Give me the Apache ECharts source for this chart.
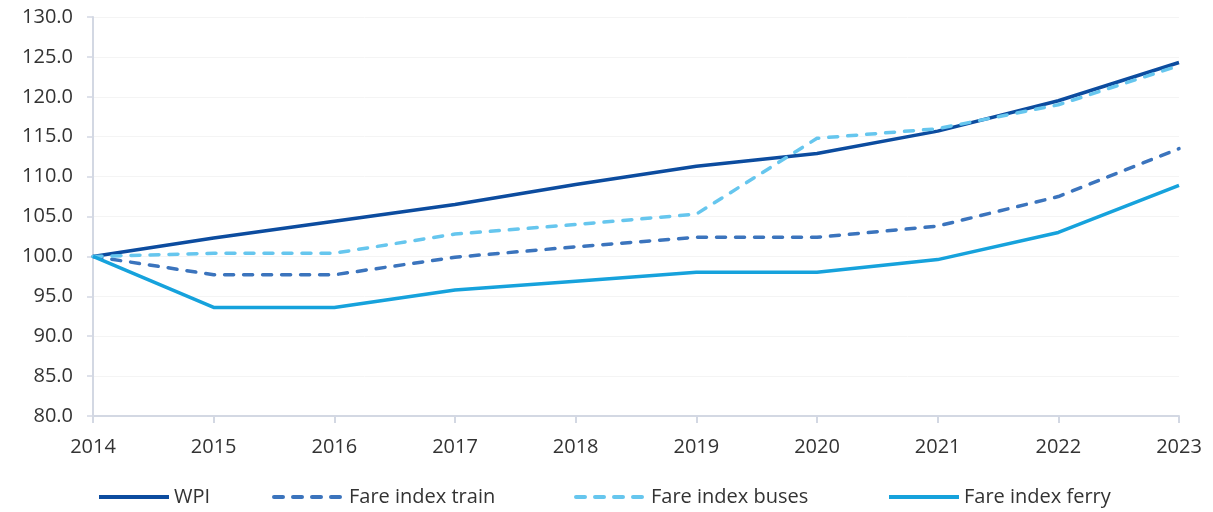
<!DOCTYPE html>
<html>
<head>
<meta charset="utf-8">
<script src="https://cdn.jsdelivr.net/npm/echarts@6/dist/echarts.min.js"></script>
<style>
  html, body { margin: 0; padding: 0; background: #fff; }
  #chart { width: 1213px; height: 512px; }
</style>
</head>
<body>
<div id="chart"></div>
<script>
const years = ["2014", "2015", "2016", "2017", "2018", "2019", "2020", "2021", "2022", "2023"];
const wpi   = [100, 102.3, 104.4, 106.5, 109.0, 111.3, 112.9, 115.7, 119.5, 124.3];
const train = [100, 97.7, 97.7, 99.9, 101.2, 102.4, 102.4, 103.8, 107.5, 113.5];
const buses = [100, 100.4, 100.4, 102.8, 104.0, 105.3, 114.8, 116.0, 119.0, 123.9];
const ferry = [100, 93.6, 93.6, 95.8, 96.9, 98.0, 98.0, 99.6, 103.0, 108.9];

const names = ["WPI", "Fare index train", "Fare index buses", "Fare index ferry"];
const legendLeft = [97, 272, 574, 887];

const chart = echarts.init(document.getElementById("chart"));

function line(name, data, color, dashed) {
  return {
    name, type: "line", data,
    symbol: "none", smooth: false,
    lineStyle: { color, width: 3.5, type: dashed ? [9, 10] : "solid", cap: dashed ? "round" : "butt" },
    itemStyle: { color },
  };
}

// one legend per item so each sits where it does in the original
const legends = names.map((n, i) => ({
  data: [n], left: legendLeft[i], top: 487, padding: 0,
  itemWidth: 70, itemHeight: 4, itemGap: 6,
  itemStyle: { opacity: 0 },
  lineStyle: { width: 4 },
  textStyle: { fontSize: 20, color: "#333", fontFamily: "Open Sans" },
}));

chart.setOption({
  animation: false,
  textStyle: { fontFamily: "Open Sans", color: "#333" },
  grid: { left: 93, right: 34, top: 17, bottom: 96 },
  legend: legends,
  xAxis: {
    type: "category", data: years, boundaryGap: false,
    axisLine: { lineStyle: { color: "#d3d8e3", width: 2 } },
    axisTick: { length: 7, lineStyle: { color: "#d3d8e3", width: 2 } },
    axisLabel: { fontSize: 20, color: "#333", margin: 21 },
    splitLine: { show: false },
  },
  yAxis: {
    type: "value", min: 80, max: 130, interval: 5,
    axisLine: { show: true, lineStyle: { color: "#d3d8e3", width: 2 } },
    axisTick: { show: true, length: 6, lineStyle: { color: "#d3d8e3", width: 1.5 } },
    axisLabel: { fontSize: 20, color: "#333", margin: 20, formatter: v => v.toFixed(1) },
    splitLine: { lineStyle: { color: "#f4f4f4" } },
  },
  series: [
    line(names[0], wpi, "#0c4c9f", false),
    line(names[1], train, "#3b74bd", true),
    line(names[2], buses, "#66c6ee", true),
    line(names[3], ferry, "#16a2dc", false),
  ],
});
</script>
</body>
</html>
